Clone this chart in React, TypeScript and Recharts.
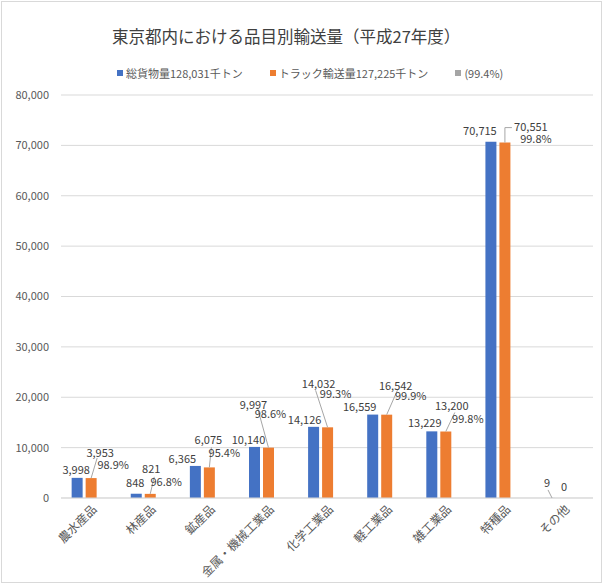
import { Bar, BarChart, CartesianGrid, LabelList, Legend, XAxis, YAxis } from "recharts"

const categories = ["農水産品", "林産品", "鉱産品", "金属・機械工業品", "化学工業品", "軽工業品", "雑工業品", "特種品", "その他"]
const totalValues = [3998, 848, 6365, 10140, 14126, 16559, 13229, 70715, 9]
const truckValues = [3953, 821, 6075, 9997, 14032, 16542, 13200, 70551, 0]
const yTicks = [0, 10000, 20000, 30000, 40000, 50000, 60000, 70000, 80000]
const seriesNames = ["総貨物量128,031千トン", "トラック輸送量127,225千トン", "(99.4%)"]

const data = categories.map((name, i) => ({
  name,
  total: totalValues[i],
  truck: truckValues[i],
  share: 0,
}))

// labels were hand-placed in the original, offsets are from the bar's top centre
const totalLabelOffset = [[-1, -9], [-1, -12], [-13, -8], [-6, -8], [-9, -8], [-13, -9], [-7, -9], [-11, -12], [-3, -16]]
const truckLabelOffset = [
  { v: [9, -26], p: [22, -14], l: [6, -20] },
  { v: [1, -26], p: [16, -13], l: [4, -17] },
  { v: [-1, -28], p: [15, -15], l: [2, -20] },
  { v: [-15, -44], p: [2, -35], l: [-11, -40] },
  { v: [-9, -44], p: [8, -34], l: [-12, -37] },
  { v: [9, -30], p: [24, -20], l: [11, -25] },
  { v: [6, -27], p: [22, -14], l: [9, -19] },
  { v: [26, -17], p: [31, -5], l: [0, -15] },
  { v: [0, -12], p: [0, 0], l: [0, 0] },
]

const FONT = '"Noto Sans CJK JP", "Noto Sans", sans-serif'
const TEXT = "#404040"
const LEADER = "#a6a6a6"

const fmt = (v: number) => v.toLocaleString("en-US")

function box(props: any) {
  const vb = props.viewBox ?? props
  return { cx: vb.x + vb.width / 2, top: vb.y }
}

const TotalLabel = (props: any) => {
  const { cx, top } = box(props)
  const i = props.index
  const [dx, dy] = totalLabelOffset[i]
  const last = i === categories.length - 1
  return (
    <g fontFamily={FONT} fontSize={11} fill={TEXT}>
      {last && <line x1={cx - 2} y1={top - 8} x2={cx + 2} y2={top} stroke={LEADER} />}
      <text x={cx + dx} y={top + dy} textAnchor="middle" dominantBaseline="central">
        {fmt(props.value)}
      </text>
      {/* zero-height truck bar gets no label of its own, so draw its "0" here */}
      {truckValues[i] === 0 && (
        <text x={cx + 14} y={top - 12} textAnchor="middle" dominantBaseline="central">
          {fmt(truckValues[i])}
        </text>
      )}
    </g>
  )
}

const TruckLabel = (props: any) => {
  const { cx, top } = box(props)
  const i = props.index
  const o = truckLabelOffset[i]
  const v = truckValues[i]
  if (v === 0) return null
  const pct = ((v / totalValues[i]) * 100).toFixed(1) + "%"
  const elbow = i === 7
  return (
    <g fontFamily={FONT} fontSize={11} fill={TEXT}>
      {!elbow && <line x1={cx} y1={top} x2={cx + o.l[0]} y2={top + o.l[1]} stroke={LEADER} />}
      {elbow && (
        <polyline points={`${cx},${top} ${cx},${top + o.l[1]} ${cx + 7},${top + o.l[1]}`} fill="none" stroke={LEADER} />
      )}
      <text x={cx + o.v[0]} y={top + o.v[1]} textAnchor="middle" dominantBaseline="central">
        {fmt(v)}
      </text>
      <text x={cx + o.p[0]} y={top + o.p[1]} textAnchor="middle" dominantBaseline="central">
        {pct}
      </text>
    </g>
  )
}

const CategoryTick = ({ x, y, payload }: any) => (
  <text
    x={x + 3}
    y={y + 8}
    transform={`rotate(-45 ${x + 3} ${y + 8})`}
    textAnchor="end"
    dominantBaseline="central"
    fontSize={12}
    fill="#595959"
    fontFamily={FONT}
  >
    {payload.value}
  </text>
)

const renderLegend = ({ payload }: any) => {
  const items = [...(payload ?? [])].sort((a: any, b: any) => seriesNames.indexOf(a.value) - seriesNames.indexOf(b.value))
  return (
    <div style={{ display: "flex", gap: 27, paddingLeft: 117, fontSize: 11, color: "#595959", fontFamily: FONT, lineHeight: "14px" }}>
      {items.map((p: any) => (
        <div key={p.value} style={{ display: "flex", alignItems: "center", gap: 3 }}>
          <span style={{ width: 6, height: 6, background: p.color, display: "inline-block" }} />
          <span>{p.value}</span>
        </div>
      ))}
    </div>
  )
}

export default function App() {
  return (
    <div style={{ position: "absolute", left: 0, top: 0, width: 604, height: 585, background: "#fff" }}>
      <div
        style={{
          position: "absolute",
          left: 1,
          top: 1,
          width: 601,
          height: 582,
          border: "1px solid #d9d9d9",
          boxSizing: "border-box",
        }}
      />
      <div
        style={{
          position: "absolute",
          left: 112,
          top: 25,
          fontSize: 16.5,
          color: "#404040",
          fontFamily: FONT,
          lineHeight: "22px",
          whiteSpace: "nowrap",
        }}
      >
        東京都内における品目別輸送量（平成27年度）
      </div>
      <BarChart
        width={604}
        height={585}
        data={data}
        margin={{ top: 95, right: 11, left: 8, bottom: 7 }}
        barCategoryGap="18%"
        barGap={3}
      >
        <CartesianGrid vertical={false} stroke="#d9d9d9" />
        <XAxis
          dataKey="name"
          height={80}
          interval={0}
          tickLine={false}
          tickSize={0}
          tickMargin={0}
          axisLine={{ stroke: "#d9d9d9" }}
          tick={<CategoryTick />}
        />
        <YAxis
          width={53}
          domain={[0, 80000]}
          ticks={yTicks}
          axisLine={false}
          tickLine={false}
          tickSize={0}
          tickMargin={12}
          tickFormatter={fmt}
          tick={{ fontSize: 11, fill: "#595959", fontFamily: FONT }}
        />
        <Legend
          layout="vertical"
          verticalAlign="middle"
          align="center"
          wrapperStyle={{ top: 66, left: 0, width: 604 }}
          content={renderLegend}
        />
        <Bar dataKey="total" name={seriesNames[0]} fill="#4472C4" isAnimationActive={false}>
          <LabelList dataKey="total" content={<TotalLabel />} />
        </Bar>
        <Bar dataKey="truck" name={seriesNames[1]} fill="#ED7D31" isAnimationActive={false}>
          <LabelList dataKey="truck" content={<TruckLabel />} />
        </Bar>
        <Bar dataKey="share" name={seriesNames[2]} fill="#A5A5A5" isAnimationActive={false} />
      </BarChart>
    </div>
  )
}
